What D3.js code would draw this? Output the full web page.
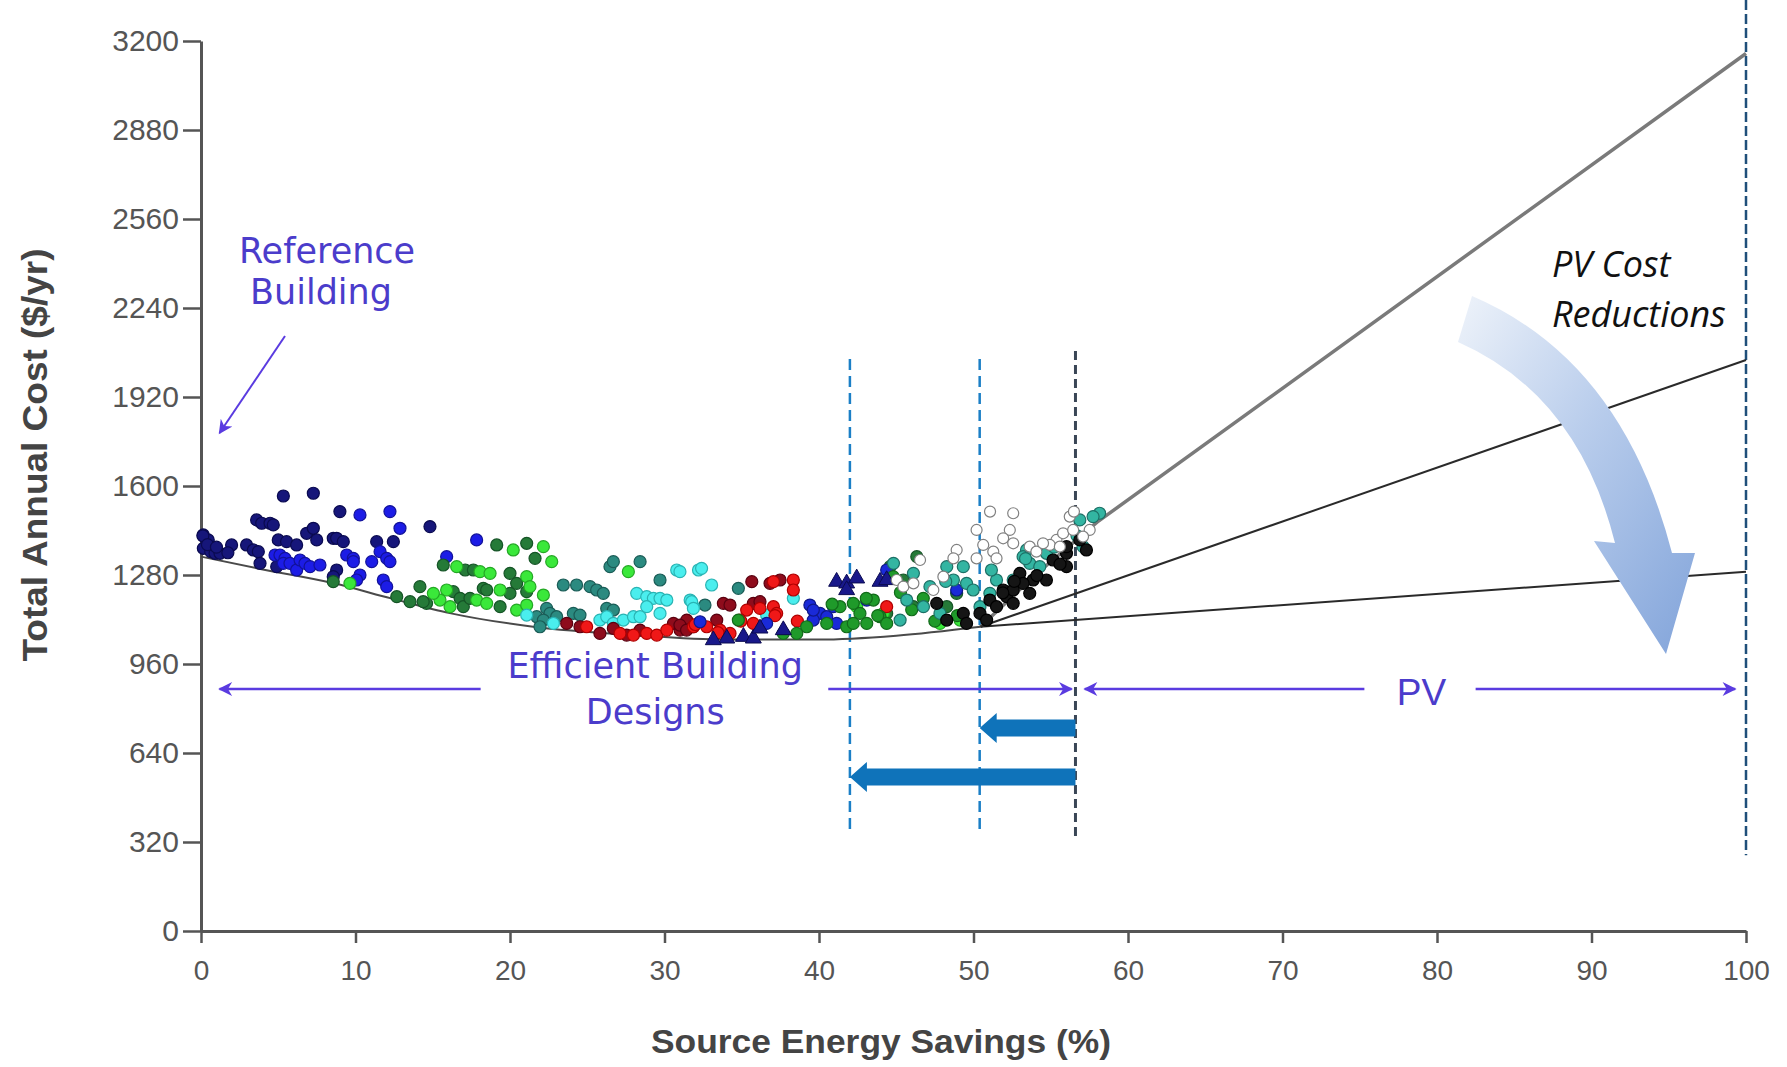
<!DOCTYPE html>
<html>
<head>
<meta charset="utf-8">
<title>Total annual cost vs source energy savings</title>
<script src="https://cdn.jsdelivr.net/npm/d3@7"></script>
<style>
  body { margin: 0; background: #fff; }
  svg { display: block; }
</style>
</head>
<body>
<div id="chart"></div>
<script>
// axis ticks
var xTicks = [0, 10, 20, 30, 40, 50, 60, 70, 80, 90, 100];
var yTicks = [0, 320, 640, 960, 1280, 1600, 1920, 2240, 2560, 2880, 3200];

// lower envelope of the efficient designs, then the three PV cost lines
var paretoCurve = [[0,1346],[4,1300],[8.6,1250],[12.3,1196],[16.1,1143],[21.5,1094],[28,1064],[34,1048],[40,1048],[45,1062],[50.45,1094]];
var pvLineHigh = [[50.45,1094],[54,1280],[58,1470],[100,3155]];
var pvLineMid = [[50.45,1094],[100,2053]];
var pvLineLow = [[50.45,1094],[100,1292]];

// scatter series, [savings %, cost $/yr]
var navyPts = [[0.15,1424],[0.47,1406],[0.15,1376],[0.63,1364],[0.91,1358],[1.23,1358],[1.98,1388],[2.95,1388],[3.39,1370],[3.71,1364],
  [3.6,1478],[3.93,1466],[4.47,1466],[4.68,1460],[5.33,1564],[7.27,1574],[5.0,1406],[5.54,1400],[6.19,1388],[3.82,1322],[4.9,1310],
  [8.99,1508],[14.82,1454],[12.45,1400],[11.37,1400],[6.84,1430],[7.27,1448],[7.49,1406],[8.56,1412],[8.78,1412],[9.21,1400],[8.78,1298],[8.56,1274],
  [0.12,1421],[0.42,1389],[1.0,1380],[1.74,1360]];
var bluePts = [[10.29,1496],[12.23,1508],[12.88,1448],[4.79,1352],[5.11,1352],[5.44,1340],[5.33,1322],[5.76,1322],[6.19,1298],
  [6.41,1334],[6.73,1322],[7.06,1310],[7.7,1316],[9.43,1352],[9.86,1340],[9.86,1328],[10.29,1280],[10.07,1262],
  [11.05,1328],[11.59,1364],[12.02,1340],[12.23,1328],[11.8,1262],[12.02,1238],[15.9,1346],[17.84,1406]];
var darkGreenPts = [[19.14,1388],[21.08,1394],[21.62,1340],[20.0,1286],[20.43,1250],[18.27,1232],[18.49,1226],[16.33,1220],[20.0,1214],
  [21.08,1220],[19.36,1166],[15.68,1316],[17.1,1298],[17.63,1298],[16.77,1196],[16.98,1166],[17.41,1196],[12.67,1202],[14.17,1238],
  [8.56,1256],[13.53,1184],[14.6,1178],[14.38,1184],[46.33,1346],[45.46,1262],[46.11,1166],[48.27,1166],[48.91,1214],[44.38,1142],[44.6,1310]];
var brightGreenPts = [[20.21,1370],[22.16,1382],[22.7,1328],[16.55,1310],[18.06,1292],[18.71,1286],[21.08,1274],[19.36,1226],[21.29,1238],
  [22.16,1208],[15.9,1226],[15.47,1190],[16.12,1166],[17.84,1190],[18.49,1178],[20.43,1154],[21.08,1172],[27.66,1292],[9.64,1250],
  [15.04,1214],[42.44,1166],[44.17,1142],[47.83,1106],[49.13,1118]];
var tealPts = [[23.45,1244],[24.31,1244],[25.18,1238],[25.61,1226],[26.04,1214],[26.47,1310],[28.42,1328],[29.71,1262],[26.69,1328],
  [22.37,1160],[22.59,1142],[21.73,1130],[22.16,1118],[21.94,1094],[23.02,1130],[24.1,1142],[24.53,1136],[26.26,1160],[26.69,1154],
  [32.62,1172],[34.78,1232]];
var cyanPts = [[30.79,1298],[32.2,1298],[28.2,1214],[28.85,1202],[29.28,1196],[29.71,1196],[30.15,1190],[31.66,1190],[31.87,1166],
  [28.85,1166],[29.71,1142],[25.82,1118],[26.26,1130],[26.69,1106],[27.34,1118],[27.99,1130],[28.42,1130],[21.08,1136],[22.81,1106],
  [31.0,1292],[32.4,1304],[33.05,1244],[31.76,1184],[31.87,1160],[36.61,1136],[38.34,1196]];
var darkRedPts = [[23.67,1106],[24.53,1094],[25.82,1070],[26.69,1088],[27.55,1064],[28.42,1082],[30.58,1106],[31.01,1082],[31.44,1118],
  [31.87,1094],[35.65,1256],[36.83,1250],[37.48,1262],[33.81,1178],[34.24,1172],[35.75,1178],[36.18,1184],[33.38,1118],[31.0,1100],[31.43,1082]];
var redPts = [[24.96,1094],[27.12,1070],[27.99,1064],[28.85,1070],[29.5,1064],[30.15,1082],[37.05,1256],[38.34,1262],[38.34,1226],
  [35.32,1154],[36.18,1160],[37.05,1166],[37.26,1142],[34.89,1118],[35.75,1106],[33.6,1082],[34.24,1070],[32.73,1094],[31.87,1094],[44.38,1166],
  [31.99,1102],[34.94,1114],[37.15,1134],[38.6,1114],[33.46,1073]];
var royalPts = [[32.3,1112],[36.61,1106],[39.41,1172],[40.07,1142],[40.5,1130],[39.63,1118],[43.09,1190],[40.93,1166],[41.14,1106],
  [39.63,1154],[44.38,1298],[48.91,1226]];
var triPts = [[41.14,1256],[41.79,1250],[42.44,1268],[43.95,1256],[44.38,1262],[41.79,1226],[34.03,1052],[35.11,1058],[33.16,1046],
  [35.75,1052],[36.18,1088],[37.69,1082]];
var midGreenPts = [[34.78,1118],[42.22,1178],[42.65,1142],[43.09,1106],[43.95,1130],[44.38,1106],[41.79,1094],[40.5,1106],[39.2,1094],
  [38.56,1070],[37.69,1070],[41.36,1166],[42.22,1106],[43.52,1190],[44.8,1274],
  [40.85,1175],[43.06,1196],[45.27,1217],[46.0,1155],[47.5,1114],[48.95,1134],[43.8,1134],[46.75,1196]];
var turquoisePts = [[58.16,1502],[57.74,1490],[56.88,1478],[57.09,1382],[53.43,1370],[53.21,1346],[48.27,1310],[49.34,1310],[49.55,1250],
  [49.98,1226],[48.7,1262],[47.18,1238],[46.11,1286],[44.82,1322],[45.68,1190],[46.76,1166],[45.25,1118],[47.83,1142],[50.42,1166],
  [51.06,1214],[51.49,1262],[52.57,1262],[53.64,1322],[54.29,1310],[54.72,1358],
  [48.2,1257],[51.16,1298],[53.37,1339],[55.22,1380],[56.7,1421]];
var blackPts = [[51.92,1226],[52.14,1202],[51.06,1190],[50.42,1142],[49.34,1142],[48.27,1118],[53.0,1286],[53.86,1262],[55.15,1334],
  [56.02,1358],[56.88,1406],[53.21,1250],[56.02,1382],[47.62,1178],[51.49,1166],[52.57,1226],[49.55,1106],[50.85,1118],[52.57,1178],
  [53.64,1214],[54.72,1262],[56.02,1310],[57.31,1370],[51.9,1216],[54.1,1278],[55.6,1319],[52.64,1257]];
var openPts = [[52.57,1502],[50.2,1442],[52.35,1442],[51.92,1412],[52.57,1394],[50.63,1388],[48.91,1370],[48.7,1340],[50.2,1340],
  [51.28,1364],[51.49,1340],[55.37,1406],[55.8,1430],[54.94,1388],[56.23,1490],[56.45,1442],[57.52,1442],[46.54,1334],[45.03,1262],
  [45.46,1238],[46.11,1250],[47.4,1226],[48.05,1274],[53.64,1382],[54.07,1364],[54.5,1394],[55.59,1382],[57.09,1418],[51.07,1508],[56.5,1508]];

var W = 1787, H = 1067;
var x = d3.scaleLinear().domain([0, 100]).range([201, 1746]);
var y = d3.scaleLinear().domain([0, 3200]).range([931, 41]);

var svg = d3.select("#chart").append("svg")
  .attr("width", W).attr("height", H)
  .style("font-family", "'Liberation Sans', Arial, sans-serif");
svg.append("rect").attr("width", W).attr("height", H).attr("fill", "#fff");

var defs = svg.append("defs");
defs.append("marker").attr("id", "purpleHead")
  .attr("viewBox", "0 0 10 10").attr("refX", 9).attr("refY", 5)
  .attr("markerWidth", 16).attr("markerHeight", 14).attr("markerUnits", "userSpaceOnUse")
  .attr("orient", "auto-start-reverse")
  .append("path").attr("d", "M0,0 L10,5 L0,10 L3,5 Z").attr("fill", "#5a3be0");
var grad = defs.append("linearGradient").attr("id", "bigArrow")
  .attr("x1", "0").attr("y1", "0").attr("x2", "1").attr("y2", "1");
grad.append("stop").attr("offset", "0%").attr("stop-color", "#eef3fa");
grad.append("stop").attr("offset", "45%").attr("stop-color", "#b9cdec");
grad.append("stop").attr("offset", "100%").attr("stop-color", "#82a4da");

// axes
var yAxis = svg.append("g").attr("transform", "translate(" + x(0) + ",0)")
  .call(d3.axisLeft(y).tickValues(yTicks).tickFormat(d3.format("d")).tickSize(18).tickPadding(4).tickSizeOuter(0));
var xAxis = svg.append("g").attr("transform", "translate(0," + y(0) + ")")
  .call(d3.axisBottom(x).tickValues(xTicks).tickFormat(d3.format("d")).tickSize(12).tickPadding(17).tickSizeOuter(0));
[xAxis, yAxis].forEach(function(g) {
  g.select(".domain").attr("stroke", "#555").attr("stroke-width", 3);
  g.selectAll(".tick line").attr("stroke", "#555").attr("stroke-width", 2.5);
  g.selectAll(".tick text").attr("fill", "#555").style("font-size", "28px")
    .style("font-family", "'Liberation Sans', Arial, sans-serif");
});
yAxis.selectAll(".tick text").style("font-size", "30px");

svg.append("text")
  .attr("transform", "translate(47,455) rotate(-90)")
  .attr("text-anchor", "middle")
  .attr("fill", "#444").style("font-size", "35px").style("font-weight", "bold")
  .attr("textLength", 413).attr("lengthAdjust", "spacingAndGlyphs")
  .text("Total Annual Cost ($/yr)");
svg.append("text")
  .attr("x", 881).attr("y", 1053)
  .attr("text-anchor", "middle")
  .attr("fill", "#444").style("font-size", "33px").style("font-weight", "bold")
  .attr("textLength", 460).attr("lengthAdjust", "spacingAndGlyphs")
  .text("Source Energy Savings (%)");

// vertical guides
[42, 50.4].forEach(function(v) {
  svg.append("line").attr("x1", x(v)).attr("x2", x(v)).attr("y1", y(2057)).attr("y2", y(352))
    .attr("stroke", "#1b7fc6").attr("stroke-width", 2.5).attr("stroke-dasharray", "11,6");
});
svg.append("line").attr("x1", x(56.6)).attr("x2", x(56.6)).attr("y1", y(2085)).attr("y2", y(333))
  .attr("stroke", "#3a4656").attr("stroke-width", 3).attr("stroke-dasharray", "9,5");
svg.append("line").attr("x1", x(100)).attr("x2", x(100)).attr("y1", 0).attr("y2", y(272))
  .attr("stroke", "#1f4f7a").attr("stroke-width", 2.5).attr("stroke-dasharray", "10,4");

// lines
var line = d3.line().x(function(d) { return x(d[0]); }).y(function(d) { return y(d[1]); });
svg.append("path").attr("d", line.curve(d3.curveMonotoneX)(paretoCurve))
  .attr("fill", "none").attr("stroke", "#4a4a4a").attr("stroke-width", 2);
line.curve(d3.curveLinear);
svg.append("path").attr("d", line(pvLineHigh)).attr("fill", "none").attr("stroke", "#7a7a7a").attr("stroke-width", 3.5);
svg.append("path").attr("d", line(pvLineMid)).attr("fill", "none").attr("stroke", "#2a2a2a").attr("stroke-width", 2);
svg.append("path").attr("d", line(pvLineLow)).attr("fill", "none").attr("stroke", "#2a2a2a").attr("stroke-width", 2);

// scatter
function dots(data, fill, stroke, r) {
  svg.append("g").selectAll("circle").data(data).join("circle")
    .attr("cx", function(d) { return x(d[0]); })
    .attr("cy", function(d) { return y(d[1]); })
    .attr("r", r || 6)
    .attr("fill", fill).attr("stroke", stroke).attr("stroke-width", 1.2);
}
dots(navyPts, "#16167a", "#0a0a50");
dots(bluePts, "#1c1ce6", "#12129a");
dots(darkGreenPts, "#257a38", "#155426");
dots(brightGreenPts, "#3ae83a", "#24a824");
dots(tealPts, "#2b8a80", "#1a5c56");
dots(cyanPts, "#4aeeee", "#2ab4b4");
dots(darkRedPts, "#8e0c1c", "#5a0010");
dots(redPts, "#f01818", "#b00000");
dots(royalPts, "#1a2ad8", "#0f188a");
dots(midGreenPts, "#1f9a2a", "#126a1a");
svg.append("g").selectAll("path").data(triPts).join("path")
  .attr("d", d3.symbol(d3.symbolTriangle).size(110))
  .attr("transform", function(d) { return "translate(" + x(d[0]) + "," + y(d[1]) + ")"; })
  .attr("fill", "#18188a").attr("stroke", "#0a0a50").attr("stroke-width", 1);
dots(turquoisePts, "#33b5a2", "#1c7066");
dots(blackPts, "#151515", "#000");
dots(openPts, "#fff", "#808080", 5.5);

// reference building
var purple = "#5a3be0", purpleText = "#4b3ccb";
var annoFont = "'DejaVu Sans', Verdana, sans-serif";
svg.append("text").attr("x", 327).attr("y", 263).attr("text-anchor", "middle")
  .attr("fill", purpleText).style("font-family", annoFont).style("font-size", "35px")
  .text("Reference");
svg.append("text").attr("x", 321).attr("y", 304).attr("text-anchor", "middle")
  .attr("fill", purpleText).style("font-family", annoFont).style("font-size", "35px")
  .text("Building");
svg.append("line").attr("x1", 285).attr("y1", 336).attr("x2", x(1.2)).attr("y2", 433)
  .attr("stroke", purple).attr("stroke-width", 2).attr("marker-end", "url(#purpleHead)");

// range arrows
var arrowY = y(870);
[[18.1, 1.2], [40.6, 56.35], [75.3, 57.2], [82.5, 99.3]].forEach(function(s) {
  svg.append("line").attr("x1", x(s[0])).attr("x2", x(s[1])).attr("y1", arrowY).attr("y2", arrowY)
    .attr("stroke", purple).attr("stroke-width", 2.5).attr("marker-end", "url(#purpleHead)");
});
svg.append("text").attr("x", x(29.4)).attr("y", 678).attr("text-anchor", "middle")
  .attr("fill", purpleText).style("font-family", annoFont).style("font-size", "35px")
  .text("Efficient Building");
svg.append("text").attr("x", x(29.4)).attr("y", 724).attr("text-anchor", "middle")
  .attr("fill", purpleText).style("font-family", annoFont).style("font-size", "35px")
  .text("Designs");
svg.append("text").attr("x", x(79)).attr("y", 705).attr("text-anchor", "middle")
  .attr("fill", purpleText).style("font-size", "37px")
  .text("PV");

// thick blue arrows (shift of the optimum)
function blockArrow(fromX, toX, v) {
  var x0 = x(fromX), x1 = x(toX), yc = y(v), hl = 17;
  var p = d3.path();
  p.moveTo(x0, yc - 8.5); p.lineTo(x1 + hl, yc - 8.5); p.lineTo(x1 + hl, yc - 15);
  p.lineTo(x1, yc); p.lineTo(x1 + hl, yc + 15); p.lineTo(x1 + hl, yc + 8.5); p.lineTo(x0, yc + 8.5); p.closePath();
  svg.append("path").attr("d", p.toString()).attr("fill", "#0f73ba");
}
blockArrow(56.6, 50.4, 730);
blockArrow(56.6, 42, 554);

// PV cost reductions
svg.append("path")
  .attr("d", "M1472,296 Q1622,360 1672,553 L1695,553 L1666,654 L1594,541 L1615,543 Q1578,395 1458,342 Z")
  .attr("fill", "url(#bigArrow)");
svg.append("text").attr("x", 1552).attr("y", 277)
  .attr("fill", "#111").style("font-family", "'Open Sans', sans-serif").style("font-style", "italic").style("font-size", "36px")
  .text("PV Cost");
svg.append("text").attr("x", 1552).attr("y", 327)
  .attr("fill", "#111").style("font-family", "'Open Sans', sans-serif").style("font-style", "italic").style("font-size", "36px")
  .text("Reductions");
</script>
</body>
</html>
